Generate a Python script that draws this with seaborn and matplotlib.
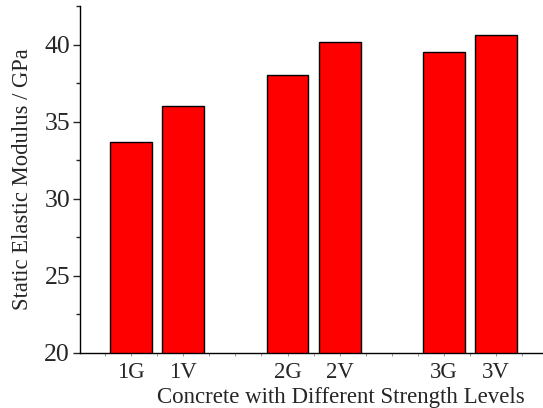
import matplotlib
matplotlib.use("Agg")
import matplotlib.pyplot as plt
from matplotlib.ticker import MultipleLocator
import seaborn as sns
import pandas as pd

# Static elastic modulus for each concrete mix (GPa)
categories = ["1G", "1V", "2G", "2V", "3G", "3V"]
positions = [0, 1, 3, 4, 6, 7]
modulus = [33.7, 36.0, 38.0, 40.2, 39.5, 40.6]

df = pd.DataFrame({"pos": positions, "modulus": modulus, "mix": categories})

sns.set_style("ticks")
plt.rcParams["font.family"] = ["Liberation Serif", "DejaVu Serif"]

fig = plt.figure(figsize=(5.43, 4.08), dpi=100)
ax = fig.add_axes([0.147, 0.135, 0.853, 0.85])

sns.barplot(data=df, x="pos", y="modulus", native_scale=True, width=0.8,
            color="#ff0000", saturation=1, edgecolor="black", linewidth=1.0,
            ax=ax, errorbar=None)

ax.set_ylim(20, 42.5)
ax.set_xlim(-0.985, 7.9)
ax.yaxis.set_major_locator(MultipleLocator(5))
ax.yaxis.set_minor_locator(MultipleLocator(2.5))
ax.set_xticks(positions)
ax.set_xticklabels(categories)
ax.xaxis.set_minor_locator(MultipleLocator(0.5))

ax.tick_params(axis="y", which="major", length=5, width=1, labelsize=18.5, pad=2)
ax.tick_params(axis="y", which="minor", length=3, width=1)
ax.tick_params(axis="x", which="both", length=2, width=0.6, color="#888888",
               labelsize=16.5, pad=4.5)

for side in ("top", "right"):
    ax.spines[side].set_visible(False)
for side in ("left", "bottom"):
    ax.spines[side].set_linewidth(1.0)
    ax.spines[side].set_color("black")

ax.set_xlabel("Concrete with Different Strength Levels", fontsize=16.5,
              labelpad=3, x=0.563)
ax.set_ylabel("Static Elastic Modulus / GPa", fontsize=16.3, labelpad=8)

fig.savefig("out.png", dpi=100)
